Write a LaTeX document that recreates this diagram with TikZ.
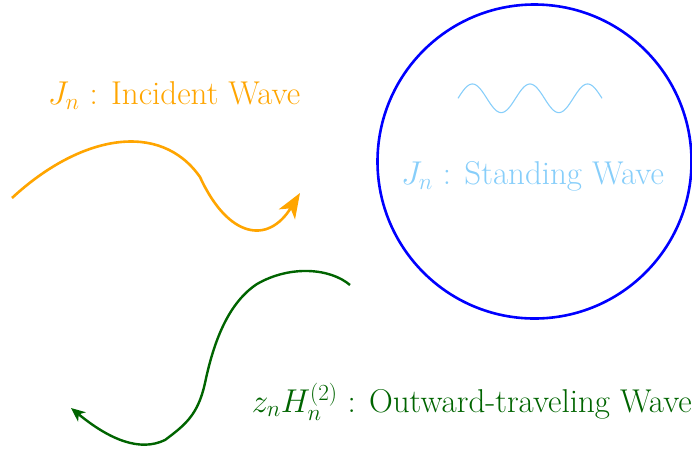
\RequirePackage{fix-cm}
\documentclass[tikz,border=0pt]{standalone}
\usetikzlibrary{arrows.meta}
\definecolor{incid}{RGB}{255,165,0}
\definecolor{stand}{RGB}{135,206,250}
\definecolor{outw}{RGB}{0,100,0}
\begin{document}
\begin{tikzpicture}[x=1pt,y=-1pt,
  lbl/.style={font=\fontsize{33}{39}\selectfont, inner sep=0pt},
  incwave/.style={incid, line width=2.6pt},
  outwave/.style={outw, line width=2.4pt}]
\useasboundingbox (0,0) rectangle (692,451);
% circle
\node[draw=blue, line width=2.6pt, circle, minimum size=314pt, inner sep=0pt] (circ) at (534.5,161.5) {};
% standing wave
\draw[stand, line width=1.1pt, domain=0:144, samples=200, variable=\t]
  plot ({458+\t},{98.3-14.3*sin(6.25*\t)});
\node[lbl, text=stand] (slab) at (532.5,176) {$J_n$ : Standing Wave};
% incident
\node[lbl, text=incid] (ilab) at (174,96) {$J_n$ : Incident Wave};
\coordinate (i0) at (12,198);
\coordinate (i1) at (200,177);
\coordinate (i2) at (300,193);
\draw[incwave, -{Stealth[length=25pt,width=19pt,inset=7pt]}]
  (i0) .. controls (80,135) and (160,120) .. (i1)
       .. controls (228,238) and (268,245) .. (i2);
% outward
\node[lbl, text=outw, anchor=base east] (olab) at (692,412) {$z_nH_n^{(2)}$ : Outward-traveling Wave};
\coordinate (o0) at (350,285);
\coordinate (o1) at (257,284);
\coordinate (o2) at (205,383);
\coordinate (o3) at (165,440);
\coordinate (o4) at (71,408);
\draw[outwave, -{Stealth[length=14pt,width=12pt,inset=4pt]}]
  (o0) .. controls (330,268) and (290,265) .. (o1)
       .. controls (225,305) and (212,350) .. (o2)
       .. controls (198,415) and (185,425) .. (o3)
       .. controls (140,452) and (110,440) .. (o4);
\end{tikzpicture}
\end{document}
